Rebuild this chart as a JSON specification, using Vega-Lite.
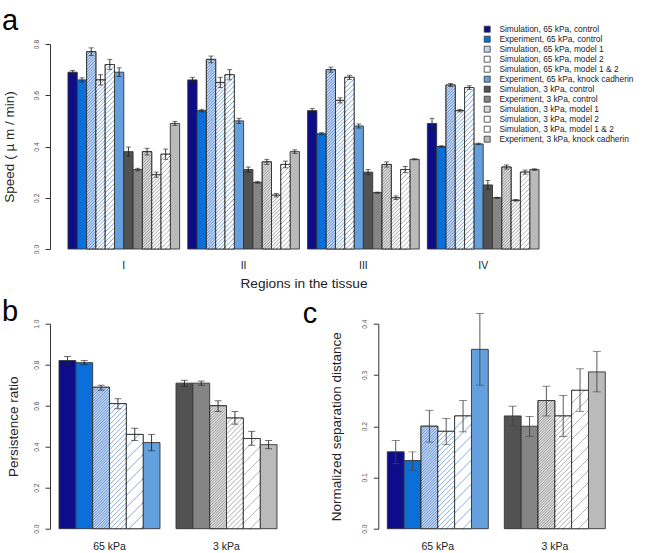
{
"$schema":"https://vega.github.io/schema/vega-lite/v6.json",
"autosize":{"type":"none"},
"padding":{"left":50,"top":44,"right":605,"bottom":509},
"background":"white",
"config":{"view":{"stroke":null},"font":"Liberation Sans",
 "axis":{"grid":false,"domainColor":"#333","tickColor":"#333","labelColor":"#333","titleColor":"#222","titleFontWeight":"normal","labelFont":"Liberation Sans","titleFont":"Liberation Sans"},
 "axisX":{"domain":false,"ticks":false,"tickSize":0,"labelAngle":0,"labelFontSize":10.5,"labelColor":"#222","titleFontSize":13.7},
 "axisY":{"labelAngle":270,"labelAlign":"center","labelBaseline":"alphabetic","labelPadding":6.5,"labelFontSize":6.7,"labelColor":"#555","tickSize":5,"titleAngle":270,"titleAlign":"center","titleBaseline":"middle","titleFontSize":13.5,"titleY":102.5},
 "title":{"font":"Liberation Sans","fontSize":29,"fontWeight":"normal","color":"#000","anchor":"start","frame":"group","baseline":"alphabetic","offset":0}
},
"params":[
{"name":"stopsA","value":[
{"offset":0,"color":"#fff"},{"offset":0.004,"color":"rgba(255,255,255,0)"},{"offset":0.008,"color":"#fff"},
{"offset":0.0125,"color":"#fff"},{"offset":0.0165,"color":"rgba(255,255,255,0)"},{"offset":0.0205,"color":"#fff"},
{"offset":0.025,"color":"#fff"},{"offset":0.029,"color":"rgba(255,255,255,0)"},{"offset":0.033,"color":"#fff"},
{"offset":0.0375,"color":"#fff"},{"offset":0.0415,"color":"rgba(255,255,255,0)"},{"offset":0.0455,"color":"#fff"},
{"offset":0.05,"color":"#fff"},{"offset":0.054,"color":"rgba(255,255,255,0)"},{"offset":0.058,"color":"#fff"},
{"offset":0.0625,"color":"#fff"},{"offset":0.0665,"color":"rgba(255,255,255,0)"},{"offset":0.0705,"color":"#fff"},
{"offset":0.075,"color":"#fff"},{"offset":0.079,"color":"rgba(255,255,255,0)"},{"offset":0.083,"color":"#fff"},
{"offset":0.0875,"color":"#fff"},{"offset":0.0915,"color":"rgba(255,255,255,0)"},{"offset":0.0955,"color":"#fff"},
{"offset":0.1,"color":"#fff"},{"offset":0.104,"color":"rgba(255,255,255,0)"},{"offset":0.108,"color":"#fff"},
{"offset":0.1125,"color":"#fff"},{"offset":0.1165,"color":"rgba(255,255,255,0)"},{"offset":0.1205,"color":"#fff"},
{"offset":0.125,"color":"#fff"},{"offset":0.129,"color":"rgba(255,255,255,0)"},{"offset":0.133,"color":"#fff"},
{"offset":0.1375,"color":"#fff"},{"offset":0.1415,"color":"rgba(255,255,255,0)"},{"offset":0.1455,"color":"#fff"},
{"offset":0.15,"color":"#fff"},{"offset":0.154,"color":"rgba(255,255,255,0)"},{"offset":0.158,"color":"#fff"},
{"offset":0.1625,"color":"#fff"},{"offset":0.1665,"color":"rgba(255,255,255,0)"},{"offset":0.1705,"color":"#fff"},
{"offset":0.175,"color":"#fff"},{"offset":0.179,"color":"rgba(255,255,255,0)"},{"offset":0.183,"color":"#fff"},
{"offset":0.1875,"color":"#fff"},{"offset":0.1915,"color":"rgba(255,255,255,0)"},{"offset":0.1955,"color":"#fff"},
{"offset":0.2,"color":"#fff"},{"offset":0.204,"color":"rgba(255,255,255,0)"},{"offset":0.208,"color":"#fff"},
{"offset":0.2125,"color":"#fff"},{"offset":0.2165,"color":"rgba(255,255,255,0)"},{"offset":0.2205,"color":"#fff"},
{"offset":0.225,"color":"#fff"},{"offset":0.229,"color":"rgba(255,255,255,0)"},{"offset":0.233,"color":"#fff"},
{"offset":0.2375,"color":"#fff"},{"offset":0.2415,"color":"rgba(255,255,255,0)"},{"offset":0.2455,"color":"#fff"},
{"offset":0.25,"color":"#fff"},{"offset":0.254,"color":"rgba(255,255,255,0)"},{"offset":0.258,"color":"#fff"},
{"offset":0.2625,"color":"#fff"},{"offset":0.2665,"color":"rgba(255,255,255,0)"},{"offset":0.2705,"color":"#fff"},
{"offset":0.275,"color":"#fff"},{"offset":0.279,"color":"rgba(255,255,255,0)"},{"offset":0.283,"color":"#fff"},
{"offset":0.2875,"color":"#fff"},{"offset":0.2915,"color":"rgba(255,255,255,0)"},{"offset":0.2955,"color":"#fff"},
{"offset":0.3,"color":"#fff"},{"offset":0.304,"color":"rgba(255,255,255,0)"},{"offset":0.308,"color":"#fff"},
{"offset":0.3125,"color":"#fff"},{"offset":0.3165,"color":"rgba(255,255,255,0)"},{"offset":0.3205,"color":"#fff"},
{"offset":0.325,"color":"#fff"},{"offset":0.329,"color":"rgba(255,255,255,0)"},{"offset":0.333,"color":"#fff"},
{"offset":0.3375,"color":"#fff"},{"offset":0.3415,"color":"rgba(255,255,255,0)"},{"offset":0.3455,"color":"#fff"},
{"offset":0.35,"color":"#fff"},{"offset":0.354,"color":"rgba(255,255,255,0)"},{"offset":0.358,"color":"#fff"},
{"offset":0.3625,"color":"#fff"},{"offset":0.3665,"color":"rgba(255,255,255,0)"},{"offset":0.3705,"color":"#fff"},
{"offset":0.375,"color":"#fff"},{"offset":0.379,"color":"rgba(255,255,255,0)"},{"offset":0.383,"color":"#fff"},
{"offset":0.3875,"color":"#fff"},{"offset":0.3915,"color":"rgba(255,255,255,0)"},{"offset":0.3955,"color":"#fff"},
{"offset":0.4,"color":"#fff"},{"offset":0.404,"color":"rgba(255,255,255,0)"},{"offset":0.408,"color":"#fff"},
{"offset":0.4125,"color":"#fff"},{"offset":0.4165,"color":"rgba(255,255,255,0)"},{"offset":0.4205,"color":"#fff"},
{"offset":0.425,"color":"#fff"},{"offset":0.429,"color":"rgba(255,255,255,0)"},{"offset":0.433,"color":"#fff"},
{"offset":0.4375,"color":"#fff"},{"offset":0.4415,"color":"rgba(255,255,255,0)"},{"offset":0.4455,"color":"#fff"},
{"offset":0.45,"color":"#fff"},{"offset":0.454,"color":"rgba(255,255,255,0)"},{"offset":0.458,"color":"#fff"},
{"offset":0.4625,"color":"#fff"},{"offset":0.4665,"color":"rgba(255,255,255,0)"},{"offset":0.4705,"color":"#fff"},
{"offset":0.475,"color":"#fff"},{"offset":0.479,"color":"rgba(255,255,255,0)"},{"offset":0.483,"color":"#fff"},
{"offset":0.4875,"color":"#fff"},{"offset":0.4915,"color":"rgba(255,255,255,0)"},{"offset":0.4955,"color":"#fff"},
{"offset":0.5,"color":"#fff"},{"offset":0.504,"color":"rgba(255,255,255,0)"},{"offset":0.508,"color":"#fff"},
{"offset":0.5125,"color":"#fff"},{"offset":0.5165,"color":"rgba(255,255,255,0)"},{"offset":0.5205,"color":"#fff"},
{"offset":0.525,"color":"#fff"},{"offset":0.529,"color":"rgba(255,255,255,0)"},{"offset":0.533,"color":"#fff"},
{"offset":0.5375,"color":"#fff"},{"offset":0.5415,"color":"rgba(255,255,255,0)"},{"offset":0.5455,"color":"#fff"},
{"offset":0.55,"color":"#fff"},{"offset":0.554,"color":"rgba(255,255,255,0)"},{"offset":0.558,"color":"#fff"},
{"offset":0.5625,"color":"#fff"},{"offset":0.5665,"color":"rgba(255,255,255,0)"},{"offset":0.5705,"color":"#fff"},
{"offset":0.575,"color":"#fff"},{"offset":0.579,"color":"rgba(255,255,255,0)"},{"offset":0.583,"color":"#fff"},
{"offset":0.5875,"color":"#fff"},{"offset":0.5915,"color":"rgba(255,255,255,0)"},{"offset":0.5955,"color":"#fff"},
{"offset":0.6,"color":"#fff"},{"offset":0.604,"color":"rgba(255,255,255,0)"},{"offset":0.608,"color":"#fff"},
{"offset":0.6125,"color":"#fff"},{"offset":0.6165,"color":"rgba(255,255,255,0)"},{"offset":0.6205,"color":"#fff"},
{"offset":0.625,"color":"#fff"},{"offset":0.629,"color":"rgba(255,255,255,0)"},{"offset":0.633,"color":"#fff"},
{"offset":0.6375,"color":"#fff"},{"offset":0.6415,"color":"rgba(255,255,255,0)"},{"offset":0.6455,"color":"#fff"},
{"offset":0.65,"color":"#fff"},{"offset":0.654,"color":"rgba(255,255,255,0)"},{"offset":0.658,"color":"#fff"},
{"offset":0.6625,"color":"#fff"},{"offset":0.6665,"color":"rgba(255,255,255,0)"},{"offset":0.6705,"color":"#fff"},
{"offset":0.675,"color":"#fff"},{"offset":0.679,"color":"rgba(255,255,255,0)"},{"offset":0.683,"color":"#fff"},
{"offset":0.6875,"color":"#fff"},{"offset":0.6915,"color":"rgba(255,255,255,0)"},{"offset":0.6955,"color":"#fff"},
{"offset":0.7,"color":"#fff"},{"offset":0.704,"color":"rgba(255,255,255,0)"},{"offset":0.708,"color":"#fff"},
{"offset":0.7125,"color":"#fff"},{"offset":0.7165,"color":"rgba(255,255,255,0)"},{"offset":0.7205,"color":"#fff"},
{"offset":0.725,"color":"#fff"},{"offset":0.729,"color":"rgba(255,255,255,0)"},{"offset":0.733,"color":"#fff"},
{"offset":0.7375,"color":"#fff"},{"offset":0.7415,"color":"rgba(255,255,255,0)"},{"offset":0.7455,"color":"#fff"},
{"offset":0.75,"color":"#fff"},{"offset":0.754,"color":"rgba(255,255,255,0)"},{"offset":0.758,"color":"#fff"},
{"offset":0.7625,"color":"#fff"},{"offset":0.7665,"color":"rgba(255,255,255,0)"},{"offset":0.7705,"color":"#fff"},
{"offset":0.775,"color":"#fff"},{"offset":0.779,"color":"rgba(255,255,255,0)"},{"offset":0.783,"color":"#fff"},
{"offset":0.7875,"color":"#fff"},{"offset":0.7915,"color":"rgba(255,255,255,0)"},{"offset":0.7955,"color":"#fff"},
{"offset":0.8,"color":"#fff"},{"offset":0.804,"color":"rgba(255,255,255,0)"},{"offset":0.808,"color":"#fff"},
{"offset":0.8125,"color":"#fff"},{"offset":0.8165,"color":"rgba(255,255,255,0)"},{"offset":0.8205,"color":"#fff"},
{"offset":0.825,"color":"#fff"},{"offset":0.829,"color":"rgba(255,255,255,0)"},{"offset":0.833,"color":"#fff"},
{"offset":0.8375,"color":"#fff"},{"offset":0.8415,"color":"rgba(255,255,255,0)"},{"offset":0.8455,"color":"#fff"},
{"offset":0.85,"color":"#fff"},{"offset":0.854,"color":"rgba(255,255,255,0)"},{"offset":0.858,"color":"#fff"},
{"offset":0.8625,"color":"#fff"},{"offset":0.8665,"color":"rgba(255,255,255,0)"},{"offset":0.8705,"color":"#fff"},
{"offset":0.875,"color":"#fff"},{"offset":0.879,"color":"rgba(255,255,255,0)"},{"offset":0.883,"color":"#fff"},
{"offset":0.8875,"color":"#fff"},{"offset":0.8915,"color":"rgba(255,255,255,0)"},{"offset":0.8955,"color":"#fff"},
{"offset":0.9,"color":"#fff"},{"offset":0.904,"color":"rgba(255,255,255,0)"},{"offset":0.908,"color":"#fff"},
{"offset":0.9125,"color":"#fff"},{"offset":0.9165,"color":"rgba(255,255,255,0)"},{"offset":0.9205,"color":"#fff"},
{"offset":0.925,"color":"#fff"},{"offset":0.929,"color":"rgba(255,255,255,0)"},{"offset":0.933,"color":"#fff"},
{"offset":0.9375,"color":"#fff"},{"offset":0.9415,"color":"rgba(255,255,255,0)"},{"offset":0.9455,"color":"#fff"},
{"offset":0.95,"color":"#fff"},{"offset":0.954,"color":"rgba(255,255,255,0)"},{"offset":0.958,"color":"#fff"},
{"offset":0.9625,"color":"#fff"},{"offset":0.9665,"color":"rgba(255,255,255,0)"},{"offset":0.9705,"color":"#fff"},
{"offset":0.975,"color":"#fff"},{"offset":0.979,"color":"rgba(255,255,255,0)"},{"offset":0.983,"color":"#fff"},
{"offset":0.9875,"color":"#fff"},{"offset":0.9915,"color":"rgba(255,255,255,0)"},{"offset":0.9955,"color":"#fff"}
]},
{"name":"stopsB","value":[
{"offset":0,"color":"#fff"},{"offset":0.005,"color":"rgba(255,255,255,0)"},{"offset":0.01,"color":"#fff"},
{"offset":0.025,"color":"#fff"},{"offset":0.03,"color":"rgba(255,255,255,0)"},{"offset":0.035,"color":"#fff"},
{"offset":0.05,"color":"#fff"},{"offset":0.055,"color":"rgba(255,255,255,0)"},{"offset":0.06,"color":"#fff"},
{"offset":0.075,"color":"#fff"},{"offset":0.08,"color":"rgba(255,255,255,0)"},{"offset":0.085,"color":"#fff"},
{"offset":0.1,"color":"#fff"},{"offset":0.105,"color":"rgba(255,255,255,0)"},{"offset":0.11,"color":"#fff"},
{"offset":0.125,"color":"#fff"},{"offset":0.13,"color":"rgba(255,255,255,0)"},{"offset":0.135,"color":"#fff"},
{"offset":0.15,"color":"#fff"},{"offset":0.155,"color":"rgba(255,255,255,0)"},{"offset":0.16,"color":"#fff"},
{"offset":0.175,"color":"#fff"},{"offset":0.18,"color":"rgba(255,255,255,0)"},{"offset":0.185,"color":"#fff"},
{"offset":0.2,"color":"#fff"},{"offset":0.205,"color":"rgba(255,255,255,0)"},{"offset":0.21,"color":"#fff"},
{"offset":0.225,"color":"#fff"},{"offset":0.23,"color":"rgba(255,255,255,0)"},{"offset":0.235,"color":"#fff"},
{"offset":0.25,"color":"#fff"},{"offset":0.255,"color":"rgba(255,255,255,0)"},{"offset":0.26,"color":"#fff"},
{"offset":0.275,"color":"#fff"},{"offset":0.28,"color":"rgba(255,255,255,0)"},{"offset":0.285,"color":"#fff"},
{"offset":0.3,"color":"#fff"},{"offset":0.305,"color":"rgba(255,255,255,0)"},{"offset":0.31,"color":"#fff"},
{"offset":0.325,"color":"#fff"},{"offset":0.33,"color":"rgba(255,255,255,0)"},{"offset":0.335,"color":"#fff"},
{"offset":0.35,"color":"#fff"},{"offset":0.355,"color":"rgba(255,255,255,0)"},{"offset":0.36,"color":"#fff"},
{"offset":0.375,"color":"#fff"},{"offset":0.38,"color":"rgba(255,255,255,0)"},{"offset":0.385,"color":"#fff"},
{"offset":0.4,"color":"#fff"},{"offset":0.405,"color":"rgba(255,255,255,0)"},{"offset":0.41,"color":"#fff"},
{"offset":0.425,"color":"#fff"},{"offset":0.43,"color":"rgba(255,255,255,0)"},{"offset":0.435,"color":"#fff"},
{"offset":0.45,"color":"#fff"},{"offset":0.455,"color":"rgba(255,255,255,0)"},{"offset":0.46,"color":"#fff"},
{"offset":0.475,"color":"#fff"},{"offset":0.48,"color":"rgba(255,255,255,0)"},{"offset":0.485,"color":"#fff"},
{"offset":0.5,"color":"#fff"},{"offset":0.505,"color":"rgba(255,255,255,0)"},{"offset":0.51,"color":"#fff"},
{"offset":0.525,"color":"#fff"},{"offset":0.53,"color":"rgba(255,255,255,0)"},{"offset":0.535,"color":"#fff"},
{"offset":0.55,"color":"#fff"},{"offset":0.555,"color":"rgba(255,255,255,0)"},{"offset":0.56,"color":"#fff"},
{"offset":0.575,"color":"#fff"},{"offset":0.58,"color":"rgba(255,255,255,0)"},{"offset":0.585,"color":"#fff"},
{"offset":0.6,"color":"#fff"},{"offset":0.605,"color":"rgba(255,255,255,0)"},{"offset":0.61,"color":"#fff"},
{"offset":0.625,"color":"#fff"},{"offset":0.63,"color":"rgba(255,255,255,0)"},{"offset":0.635,"color":"#fff"},
{"offset":0.65,"color":"#fff"},{"offset":0.655,"color":"rgba(255,255,255,0)"},{"offset":0.66,"color":"#fff"},
{"offset":0.675,"color":"#fff"},{"offset":0.68,"color":"rgba(255,255,255,0)"},{"offset":0.685,"color":"#fff"},
{"offset":0.7,"color":"#fff"},{"offset":0.705,"color":"rgba(255,255,255,0)"},{"offset":0.71,"color":"#fff"},
{"offset":0.725,"color":"#fff"},{"offset":0.73,"color":"rgba(255,255,255,0)"},{"offset":0.735,"color":"#fff"},
{"offset":0.75,"color":"#fff"},{"offset":0.755,"color":"rgba(255,255,255,0)"},{"offset":0.76,"color":"#fff"},
{"offset":0.775,"color":"#fff"},{"offset":0.78,"color":"rgba(255,255,255,0)"},{"offset":0.785,"color":"#fff"},
{"offset":0.8,"color":"#fff"},{"offset":0.805,"color":"rgba(255,255,255,0)"},{"offset":0.81,"color":"#fff"},
{"offset":0.825,"color":"#fff"},{"offset":0.83,"color":"rgba(255,255,255,0)"},{"offset":0.835,"color":"#fff"},
{"offset":0.85,"color":"#fff"},{"offset":0.855,"color":"rgba(255,255,255,0)"},{"offset":0.86,"color":"#fff"},
{"offset":0.875,"color":"#fff"},{"offset":0.88,"color":"rgba(255,255,255,0)"},{"offset":0.885,"color":"#fff"},
{"offset":0.9,"color":"#fff"},{"offset":0.905,"color":"rgba(255,255,255,0)"},{"offset":0.91,"color":"#fff"},
{"offset":0.925,"color":"#fff"},{"offset":0.93,"color":"rgba(255,255,255,0)"},{"offset":0.935,"color":"#fff"},
{"offset":0.95,"color":"#fff"},{"offset":0.955,"color":"rgba(255,255,255,0)"},{"offset":0.96,"color":"#fff"},
{"offset":0.975,"color":"#fff"},{"offset":0.98,"color":"rgba(255,255,255,0)"},{"offset":0.985,"color":"#fff"}
]},
{"name":"stopsC","value":[
{"offset":0,"color":"#fff"},{"offset":0.005,"color":"rgba(255,255,255,0)"},{"offset":0.01,"color":"#fff"},
{"offset":0.0625,"color":"#fff"},{"offset":0.0675,"color":"rgba(255,255,255,0)"},{"offset":0.0725,"color":"#fff"},
{"offset":0.125,"color":"#fff"},{"offset":0.13,"color":"rgba(255,255,255,0)"},{"offset":0.135,"color":"#fff"},
{"offset":0.1875,"color":"#fff"},{"offset":0.1925,"color":"rgba(255,255,255,0)"},{"offset":0.1975,"color":"#fff"},
{"offset":0.25,"color":"#fff"},{"offset":0.255,"color":"rgba(255,255,255,0)"},{"offset":0.26,"color":"#fff"},
{"offset":0.3125,"color":"#fff"},{"offset":0.3175,"color":"rgba(255,255,255,0)"},{"offset":0.3225,"color":"#fff"},
{"offset":0.375,"color":"#fff"},{"offset":0.38,"color":"rgba(255,255,255,0)"},{"offset":0.385,"color":"#fff"},
{"offset":0.4375,"color":"#fff"},{"offset":0.4425,"color":"rgba(255,255,255,0)"},{"offset":0.4475,"color":"#fff"},
{"offset":0.5,"color":"#fff"},{"offset":0.505,"color":"rgba(255,255,255,0)"},{"offset":0.51,"color":"#fff"},
{"offset":0.5625,"color":"#fff"},{"offset":0.5675,"color":"rgba(255,255,255,0)"},{"offset":0.5725,"color":"#fff"},
{"offset":0.625,"color":"#fff"},{"offset":0.63,"color":"rgba(255,255,255,0)"},{"offset":0.635,"color":"#fff"},
{"offset":0.6875,"color":"#fff"},{"offset":0.6925,"color":"rgba(255,255,255,0)"},{"offset":0.6975,"color":"#fff"},
{"offset":0.75,"color":"#fff"},{"offset":0.755,"color":"rgba(255,255,255,0)"},{"offset":0.76,"color":"#fff"},
{"offset":0.8125,"color":"#fff"},{"offset":0.8175,"color":"rgba(255,255,255,0)"},{"offset":0.8225,"color":"#fff"},
{"offset":0.875,"color":"#fff"},{"offset":0.88,"color":"rgba(255,255,255,0)"},{"offset":0.885,"color":"#fff"},
{"offset":0.9375,"color":"#fff"},{"offset":0.9425,"color":"rgba(255,255,255,0)"},{"offset":0.9475,"color":"#fff"}
]}
],
"datasets":{
"speed":[
{"region":"I","series":"Simulation, 65 kPa, control","v":0.69,"lo":0.683,"hi":0.697},
{"region":"I","series":"Experiment, 65 kPa, control","v":0.66,"lo":0.652,"hi":0.668},
{"region":"I","series":"Simulation, 65 kPa, model 1","v":0.77,"lo":0.755,"hi":0.785},
{"region":"I","series":"Simulation, 65 kPa, model 2","v":0.66,"lo":0.64,"hi":0.68},
{"region":"I","series":"Simulation, 65 kPa, model 1 & 2","v":0.72,"lo":0.70,"hi":0.74},
{"region":"I","series":"Experiment, 65 kPa, knock cadherin","v":0.69,"lo":0.673,"hi":0.707},
{"region":"I","series":"Simulation, 3 kPa, control","v":0.38,"lo":0.362,"hi":0.398},
{"region":"I","series":"Experiment, 3 kPa, control","v":0.31,"lo":0.305,"hi":0.315},
{"region":"I","series":"Simulation, 3 kPa, model 1","v":0.38,"lo":0.367,"hi":0.393},
{"region":"I","series":"Simulation, 3 kPa, model 2","v":0.29,"lo":0.28,"hi":0.30},
{"region":"I","series":"Simulation, 3 kPa, model 1 & 2","v":0.37,"lo":0.35,"hi":0.39},
{"region":"I","series":"Experiment, 3 kPa, knock cadherin","v":0.49,"lo":0.482,"hi":0.498},
{"region":"II","series":"Simulation, 65 kPa, control","v":0.66,"lo":0.65,"hi":0.67},
{"region":"II","series":"Experiment, 65 kPa, control","v":0.54,"lo":0.535,"hi":0.545},
{"region":"II","series":"Simulation, 65 kPa, model 1","v":0.74,"lo":0.727,"hi":0.753},
{"region":"II","series":"Simulation, 65 kPa, model 2","v":0.65,"lo":0.63,"hi":0.67},
{"region":"II","series":"Simulation, 65 kPa, model 1 & 2","v":0.68,"lo":0.66,"hi":0.70},
{"region":"II","series":"Experiment, 65 kPa, knock cadherin","v":0.50,"lo":0.49,"hi":0.51},
{"region":"II","series":"Simulation, 3 kPa, control","v":0.31,"lo":0.30,"hi":0.32},
{"region":"II","series":"Experiment, 3 kPa, control","v":0.26,"lo":0.257,"hi":0.263},
{"region":"II","series":"Simulation, 3 kPa, model 1","v":0.34,"lo":0.33,"hi":0.35},
{"region":"II","series":"Simulation, 3 kPa, model 2","v":0.21,"lo":0.203,"hi":0.217},
{"region":"II","series":"Simulation, 3 kPa, model 1 & 2","v":0.33,"lo":0.317,"hi":0.343},
{"region":"II","series":"Experiment, 3 kPa, knock cadherin","v":0.38,"lo":0.373,"hi":0.387},
{"region":"III","series":"Simulation, 65 kPa, control","v":0.54,"lo":0.532,"hi":0.548},
{"region":"III","series":"Experiment, 65 kPa, control","v":0.45,"lo":0.446,"hi":0.454},
{"region":"III","series":"Simulation, 65 kPa, model 1","v":0.70,"lo":0.69,"hi":0.71},
{"region":"III","series":"Simulation, 65 kPa, model 2","v":0.58,"lo":0.57,"hi":0.59},
{"region":"III","series":"Simulation, 65 kPa, model 1 & 2","v":0.67,"lo":0.662,"hi":0.678},
{"region":"III","series":"Experiment, 65 kPa, knock cadherin","v":0.48,"lo":0.472,"hi":0.488},
{"region":"III","series":"Simulation, 3 kPa, control","v":0.30,"lo":0.29,"hi":0.31},
{"region":"III","series":"Experiment, 3 kPa, control","v":0.22,"lo":0.218,"hi":0.222},
{"region":"III","series":"Simulation, 3 kPa, model 1","v":0.33,"lo":0.32,"hi":0.34},
{"region":"III","series":"Simulation, 3 kPa, model 2","v":0.20,"lo":0.193,"hi":0.207},
{"region":"III","series":"Simulation, 3 kPa, model 1 & 2","v":0.31,"lo":0.298,"hi":0.322},
{"region":"III","series":"Experiment, 3 kPa, knock cadherin","v":0.35,"lo":0.348,"hi":0.352},
{"region":"IV","series":"Simulation, 65 kPa, control","v":0.49,"lo":0.47,"hi":0.51},
{"region":"IV","series":"Experiment, 65 kPa, control","v":0.40,"lo":0.397,"hi":0.403},
{"region":"IV","series":"Simulation, 65 kPa, model 1","v":0.64,"lo":0.634,"hi":0.646},
{"region":"IV","series":"Simulation, 65 kPa, model 2","v":0.54,"lo":0.535,"hi":0.545},
{"region":"IV","series":"Simulation, 65 kPa, model 1 & 2","v":0.63,"lo":0.623,"hi":0.637},
{"region":"IV","series":"Experiment, 65 kPa, knock cadherin","v":0.41,"lo":0.407,"hi":0.413},
{"region":"IV","series":"Simulation, 3 kPa, control","v":0.25,"lo":0.233,"hi":0.267},
{"region":"IV","series":"Experiment, 3 kPa, control","v":0.20,"lo":0.198,"hi":0.202},
{"region":"IV","series":"Simulation, 3 kPa, model 1","v":0.32,"lo":0.312,"hi":0.328},
{"region":"IV","series":"Simulation, 3 kPa, model 2","v":0.19,"lo":0.187,"hi":0.193},
{"region":"IV","series":"Simulation, 3 kPa, model 1 & 2","v":0.30,"lo":0.292,"hi":0.308},
{"region":"IV","series":"Experiment, 3 kPa, knock cadherin","v":0.31,"lo":0.307,"hi":0.313}
],
"persist":[
{"stiff":"65 kPa","item":"Simulation, control","series":"Simulation, 65 kPa, control","v":0.82,"lo":0.80,"hi":0.84},
{"stiff":"65 kPa","item":"Experiment, control","series":"Experiment, 65 kPa, control","v":0.81,"lo":0.80,"hi":0.82},
{"stiff":"65 kPa","item":"Simulation, model 1","series":"Simulation, 65 kPa, model 1","v":0.69,"lo":0.676,"hi":0.70},
{"stiff":"65 kPa","item":"Simulation, model 2","series":"Simulation, 65 kPa, model 2","v":0.61,"lo":0.585,"hi":0.634},
{"stiff":"65 kPa","item":"Simulation, model 1 & 2","series":"Simulation, 65 kPa, model 1 & 2","v":0.46,"lo":0.43,"hi":0.49},
{"stiff":"65 kPa","item":"Experiment, knock cadherin","series":"Experiment, 65 kPa, knock cadherin","v":0.42,"lo":0.38,"hi":0.46},
{"stiff":"3 kPa","item":"Simulation, control","series":"Simulation, 3 kPa, control","v":0.71,"lo":0.694,"hi":0.724},
{"stiff":"3 kPa","item":"Experiment, control","series":"Experiment, 3 kPa, control","v":0.71,"lo":0.70,"hi":0.72},
{"stiff":"3 kPa","item":"Simulation, model 1","series":"Simulation, 3 kPa, model 1","v":0.60,"lo":0.572,"hi":0.624},
{"stiff":"3 kPa","item":"Simulation, model 2","series":"Simulation, 3 kPa, model 2","v":0.54,"lo":0.51,"hi":0.572},
{"stiff":"3 kPa","item":"Simulation, model 1 & 2","series":"Simulation, 3 kPa, model 1 & 2","v":0.44,"lo":0.407,"hi":0.475},
{"stiff":"3 kPa","item":"Experiment, knock cadherin","series":"Experiment, 3 kPa, knock cadherin","v":0.41,"lo":0.39,"hi":0.43}
],
"sep":[
{"stiff":"65 kPa","item":"Simulation, control","series":"Simulation, 65 kPa, control","v":0.15,"lo":0.127,"hi":0.172},
{"stiff":"65 kPa","item":"Experiment, control","series":"Experiment, 65 kPa, control","v":0.133,"lo":0.114,"hi":0.15},
{"stiff":"65 kPa","item":"Simulation, model 1","series":"Simulation, 65 kPa, model 1","v":0.20,"lo":0.169,"hi":0.231},
{"stiff":"65 kPa","item":"Simulation, model 2","series":"Simulation, 65 kPa, model 2","v":0.19,"lo":0.164,"hi":0.215},
{"stiff":"65 kPa","item":"Simulation, model 1 & 2","series":"Simulation, 65 kPa, model 1 & 2","v":0.22,"lo":0.189,"hi":0.25},
{"stiff":"65 kPa","item":"Experiment, knock cadherin","series":"Experiment, 65 kPa, knock cadherin","v":0.35,"lo":0.28,"hi":0.42},
{"stiff":"3 kPa","item":"Simulation, control","series":"Simulation, 3 kPa, control","v":0.22,"lo":0.20,"hi":0.239},
{"stiff":"3 kPa","item":"Experiment, control","series":"Experiment, 3 kPa, control","v":0.20,"lo":0.18,"hi":0.219},
{"stiff":"3 kPa","item":"Simulation, model 1","series":"Simulation, 3 kPa, model 1","v":0.25,"lo":0.22,"hi":0.278},
{"stiff":"3 kPa","item":"Simulation, model 2","series":"Simulation, 3 kPa, model 2","v":0.22,"lo":0.18,"hi":0.26},
{"stiff":"3 kPa","item":"Simulation, model 1 & 2","series":"Simulation, 3 kPa, model 1 & 2","v":0.27,"lo":0.229,"hi":0.312},
{"stiff":"3 kPa","item":"Experiment, knock cadherin","series":"Experiment, 3 kPa, knock cadherin","v":0.306,"lo":0.267,"hi":0.346}
]
},
"spacing":74.7,
"bounds":"flush",
"resolve":{"scale":{"xOffset":"independent","color":"independent","fill":"independent"},"legend":{"fill":"independent","color":"independent"}},
"vconcat":[
{
 "width":507,"height":205,
 "data":{"name":"speed"},
 "title":{"text":"a","dx":-48,"dy":15},
 "encoding":{
  "x":{"field":"region","type":"nominal","sort":["I","II","III","IV"],"scale":{"paddingInner":0.068,"paddingOuter":0.15},"axis":{"title":"Regions in the tissue","labelPadding":11,"titlePadding":6}},
  "xOffset":{"field":"series","type":"nominal","scale":{"domain":["Simulation, 65 kPa, control","Experiment, 65 kPa, control","Simulation, 65 kPa, model 1","Simulation, 65 kPa, model 2","Simulation, 65 kPa, model 1 & 2","Experiment, 65 kPa, knock cadherin","Simulation, 3 kPa, control","Experiment, 3 kPa, control","Simulation, 3 kPa, model 1","Simulation, 3 kPa, model 2","Simulation, 3 kPa, model 1 & 2","Experiment, 3 kPa, knock cadherin"],"paddingInner":0,"paddingOuter":0}}
 },
 "layer":[
  {"mark":{"type":"bar","stroke":"#333","strokeWidth":0.9},
   "encoding":{"y":{"field":"v","type":"quantitative","title":"Speed ( µ m / min)","scale":{"domain":[0,0.8]},"axis":{"title":"Speed ( µ m / min)","values":[0,0.2,0.4,0.6,0.8],"format":".1f","titleX":-41}},
    "color":{"field":"series","type":"nominal","scale":{"domain":["Simulation, 65 kPa, control","Experiment, 65 kPa, control","Simulation, 65 kPa, model 1","Simulation, 65 kPa, model 2","Simulation, 65 kPa, model 1 & 2","Experiment, 65 kPa, knock cadherin","Simulation, 3 kPa, control","Experiment, 3 kPa, control","Simulation, 3 kPa, model 1","Simulation, 3 kPa, model 2","Simulation, 3 kPa, model 1 & 2","Experiment, 3 kPa, knock cadherin","(none)"],"range":["#0d0d8a","#0b6fd9","#5d8fd6","#86aee6","#7ba6e2","#63a0dd","#525252","#858585","#9a9a9a","#aaaaaa","#b0b0b0","#bababa","#000000"]},"legend":null}}},
  {"transform":[{"filter":"indexof(datum.series,'model')>=0"}],
   "mark":{"type":"bar","stroke":"#333","strokeWidth":0.9,
    "fill":{"expr":"{gradient:'linear',x1:0,y1:0,x2:(indexof(datum.series,'1 & 2')>=0?196:indexof(datum.series,'model 2')>=0?288:224)*9.3/(86.49+pow(datum.v*256.25,2)),y2:(indexof(datum.series,'1 & 2')>=0?196:indexof(datum.series,'model 2')>=0?288:224)*datum.v*256.25/(86.49+pow(datum.v*256.25,2)),stops:indexof(datum.series,'1 & 2')>=0?stopsB:stopsA}"},
    "fillOpacity":{"expr":"indexof(datum.series,'model 1')>=0 && indexof(datum.series,'1 & 2')<0 ? 0.62 : 1"}},
   "encoding":{"y":{"field":"v","type":"quantitative","title":"Speed ( µ m / min)"}}},
  {"mark":{"type":"square","size":0,"strokeWidth":0},
   "encoding":{"y":{"field":"v","type":"quantitative","title":"Speed ( µ m / min)"},
    "fill":{"field":"series","type":"nominal","scale":{"domain":["Simulation, 65 kPa, control","Experiment, 65 kPa, control","Simulation, 65 kPa, model 1","Simulation, 65 kPa, model 2","Simulation, 65 kPa, model 1 & 2","Experiment, 65 kPa, knock cadherin","Simulation, 3 kPa, control","Experiment, 3 kPa, control","Simulation, 3 kPa, model 1","Simulation, 3 kPa, model 2","Simulation, 3 kPa, model 1 & 2","Experiment, 3 kPa, knock cadherin"],"range":["#0d0d8a","#0b6fd9","#c3d6f0","#ffffff","#ffffff","#63a0dd","#525252","#858585","#d9d9d9","#ffffff","#ffffff","#bababa"]},
     "legend":{"orient":"none","legendX":433,"legendY":-19,"title":null,"symbolType":"square","symbolSize":36,"symbolOpacity":1,"symbolStrokeColor":"#333","symbolStrokeWidth":0.8,"labelFontSize":8.4,"labelFont":"Liberation Sans","labelColor":"#222","rowPadding":0,"labelOffset":8,"labelLimit":300}}}},
  {"mark":{"type":"rule","color":"#222","strokeWidth":0.9},
   "encoding":{"y":{"field":"lo","type":"quantitative","title":"Speed ( µ m / min)"},"y2":{"field":"hi"}}},
  {"mark":{"type":"tick","color":"#222","size":5,"thickness":0.9},
   "encoding":{"y":{"field":"lo","type":"quantitative","title":"Speed ( µ m / min)"}}},
  {"mark":{"type":"tick","color":"#222","size":5,"thickness":0.9},
   "encoding":{"y":{"field":"hi","type":"quantitative","title":"Speed ( µ m / min)"}}}
 ]
},
{
 "hconcat":[
  {
   "width":236,"height":205,
   "data":{"name":"persist"},
   "title":{"text":"b","dx":-48,"dy":12},
   "encoding":{
    "x":{"field":"stiff","type":"nominal","sort":["65 kPa","3 kPa"],"scale":{"paddingInner":0.137,"paddingOuter":0.077},"axis":{"title":null,"labelPadding":13}},
    "xOffset":{"field":"item","type":"nominal","scale":{"domain":["Simulation, control","Experiment, control","Simulation, model 1","Simulation, model 2","Simulation, model 1 & 2","Experiment, knock cadherin"],"paddingInner":0,"paddingOuter":0}}
   },
   "layer":[
    {"mark":{"type":"bar","stroke":"#333","strokeWidth":0.9},
     "encoding":{"y":{"field":"v","type":"quantitative","title":"Persistence ratio","scale":{"domain":[0,1]},"axis":{"title":"Persistence ratio","values":[0,0.2,0.4,0.6,0.8,1],"format":".1f","titleX":-37}},
      "color":{"field":"series","type":"nominal","scale":{"domain":["Simulation, 65 kPa, control","Experiment, 65 kPa, control","Simulation, 65 kPa, model 1","Simulation, 65 kPa, model 2","Simulation, 65 kPa, model 1 & 2","Experiment, 65 kPa, knock cadherin","Simulation, 3 kPa, control","Experiment, 3 kPa, control","Simulation, 3 kPa, model 1","Simulation, 3 kPa, model 2","Simulation, 3 kPa, model 1 & 2","Experiment, 3 kPa, knock cadherin"],"range":["#0d0d8a","#0b6fd9","#5d8fd6","#86aee6","#7ba6e2","#63a0dd","#525252","#858585","#9a9a9a","#aaaaaa","#b0b0b0","#bababa"]},"legend":null}}},
    {"transform":[{"filter":"indexof(datum.series,'model')>=0"}],
     "mark":{"type":"bar","stroke":"#333","strokeWidth":0.9,
      "fill":{"expr":"{gradient:'linear',x1:0,y1:0,x2:(indexof(datum.series,'1 & 2')>=0?192:indexof(datum.series,'model 2')>=0?200:216)*16.83/(283.2+pow(datum.v*205,2)),y2:(indexof(datum.series,'1 & 2')>=0?192:indexof(datum.series,'model 2')>=0?200:216)*datum.v*205/(283.2+pow(datum.v*205,2)),stops:indexof(datum.series,'1 & 2')>=0?stopsC:indexof(datum.series,'model 2')>=0?stopsB:stopsA}"},
      "fillOpacity":{"expr":"indexof(datum.series,'model 1')>=0 && indexof(datum.series,'1 & 2')<0 ? 0.62 : 1"}},
     "encoding":{"y":{"field":"v","type":"quantitative","title":"Persistence ratio"}}},
    {"mark":{"type":"rule","color":"#222","strokeWidth":0.9},
     "encoding":{"y":{"field":"lo","type":"quantitative","title":"Persistence ratio"},"y2":{"field":"hi"}}},
    {"mark":{"type":"tick","color":"#222","size":7,"thickness":0.9},
     "encoding":{"y":{"field":"lo","type":"quantitative","title":"Persistence ratio"}}},
    {"mark":{"type":"tick","color":"#222","size":7,"thickness":0.9},
     "encoding":{"y":{"field":"hi","type":"quantitative","title":"Persistence ratio"}}}
   ]
  },
  {
   "width":236,"height":205,
   "data":{"name":"sep"},
   "title":{"text":"c","dx":-75.5,"dy":20},
   "encoding":{
    "x":{"field":"stiff","type":"nominal","sort":["65 kPa","3 kPa"],"scale":{"paddingInner":0.137,"paddingOuter":0.077},"axis":{"title":null,"labelPadding":13}},
    "xOffset":{"field":"item","type":"nominal","scale":{"domain":["Simulation, control","Experiment, control","Simulation, model 1","Simulation, model 2","Simulation, model 1 & 2","Experiment, knock cadherin"],"paddingInner":0,"paddingOuter":0}}
   },
   "layer":[
    {"mark":{"type":"bar","stroke":"#333","strokeWidth":0.9},
     "encoding":{"y":{"field":"v","type":"quantitative","title":"Normalized separation distance","scale":{"domain":[0,0.4]},"axis":{"title":"Normalized separation distance","values":[0,0.1,0.2,0.3,0.4],"format":".1f","titleX":-41.6}},
      "color":{"field":"series","type":"nominal","scale":{"domain":["Simulation, 65 kPa, control","Experiment, 65 kPa, control","Simulation, 65 kPa, model 1","Simulation, 65 kPa, model 2","Simulation, 65 kPa, model 1 & 2","Experiment, 65 kPa, knock cadherin","Simulation, 3 kPa, control","Experiment, 3 kPa, control","Simulation, 3 kPa, model 1","Simulation, 3 kPa, model 2","Simulation, 3 kPa, model 1 & 2","Experiment, 3 kPa, knock cadherin"],"range":["#0d0d8a","#0b6fd9","#5d8fd6","#86aee6","#7ba6e2","#63a0dd","#525252","#858585","#9a9a9a","#aaaaaa","#b0b0b0","#bababa"]},"legend":null}}},
    {"transform":[{"filter":"indexof(datum.series,'model')>=0"}],
     "mark":{"type":"bar","stroke":"#333","strokeWidth":0.9,
      "fill":{"expr":"{gradient:'linear',x1:0,y1:0,x2:(indexof(datum.series,'1 & 2')>=0?192:indexof(datum.series,'model 2')>=0?200:216)*16.83/(283.2+pow(datum.v*512.5,2)),y2:(indexof(datum.series,'1 & 2')>=0?192:indexof(datum.series,'model 2')>=0?200:216)*datum.v*512.5/(283.2+pow(datum.v*512.5,2)),stops:indexof(datum.series,'1 & 2')>=0?stopsC:indexof(datum.series,'model 2')>=0?stopsB:stopsA}"},
      "fillOpacity":{"expr":"indexof(datum.series,'model 1')>=0 && indexof(datum.series,'1 & 2')<0 ? 0.62 : 1"}},
     "encoding":{"y":{"field":"v","type":"quantitative","title":"Normalized separation distance"}}},
    {"mark":{"type":"rule","color":"#444","strokeWidth":0.9},
     "encoding":{"y":{"field":"lo","type":"quantitative","title":"Normalized separation distance"},"y2":{"field":"hi"}}},
    {"mark":{"type":"tick","color":"#444","size":8,"thickness":0.9},
     "encoding":{"y":{"field":"lo","type":"quantitative","title":"Normalized separation distance"}}},
    {"mark":{"type":"tick","color":"#444","size":8,"thickness":0.9},
     "encoding":{"y":{"field":"hi","type":"quantitative","title":"Normalized separation distance"}}}
   ]
  }
 ],
 "spacing":92.3,
 "bounds":"flush",
 "resolve":{"scale":{"xOffset":"independent","color":"independent"}}
}
]
}
